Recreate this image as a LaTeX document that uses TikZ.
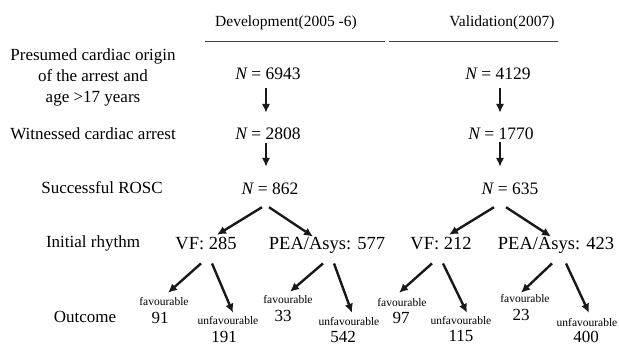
\documentclass[tikz,border=0pt]{standalone}
\usepackage{fontspec}
\setmainfont{Liberation Serif}
\usetikzlibrary{arrows.meta}

\begin{document}
\begin{tikzpicture}[x=1pt,y=-1pt,
	lbl/.style={inner sep=0pt,font=\fontsize{17}{21}\selectfont,align=center},
	hdr/.style={inner sep=0pt,font=\fontsize{15.5}{18}\selectfont},
	cnt/.style={inner sep=0pt,text height=12pt,text depth=0pt,font=\fontsize{17.5}{21}\selectfont},
	rhy/.style={inner sep=0pt,text height=12.5pt,text depth=0pt,font=\fontsize{18.5}{22}\selectfont},
	sml/.style={inner sep=0pt,text height=8pt,text depth=0pt,font=\fontsize{11.5}{13}\selectfont},
	num/.style={inner sep=0pt,text height=12pt,text depth=0pt,font=\fontsize{17}{20}\selectfont},
	arr/.style={line width=2.4pt,draw=black!90,-{Latex[length=9pt,width=8.5pt]}},
	rule/.style={line width=0.8pt,black!75}]
	\useasboundingbox (0,0) rectangle (619,346);
	\node[hdr] (hdev) at (286,23) {Development(2005 -6)};
	\node[hdr] (hval) at (502,23) {Validation(2007)};
	\draw[rule] (205,41) -- (385,41);
	\draw[rule] (389,41) -- (558,41);
	\node[lbl] (pres) at (93,77) {Presumed cardiac origin\\of the arrest and\\age >17 years};
	\node[lbl] (wit) at (93,134) {Witnessed cardiac arrest};
	\node[lbl] (rosc) at (102,188) {Successful ROSC};
	\node[lbl] (init) at (93,243) {Initial rhythm};
	\node[lbl] (outc) at (85,317) {Outcome};
	\node[cnt] (n1) at (268,73) {{\itshape N} = 6943};
	\node[cnt] (n2) at (268,133) {{\itshape N} = 2808};
	\node[cnt] (n3) at (270,188) {{\itshape N} = 862};
	\node[cnt] (m1) at (498,73) {{\itshape N} = 4129};
	\node[cnt] (m2) at (501,133) {{\itshape N} = 1770};
	\node[cnt] (m3) at (510,188) {{\itshape N} = 635};
	\node[rhy] (vf1) at (206,243) {VF: 285};
	\node[rhy] (pea1) at (327,243) {PEA/Asys: 577};
	\node[rhy] (vf2) at (441,243) {VF: 212};
	\node[rhy] (pea2) at (556,243) {PEA/Asys: 423};
	\node[sml] (fav1) at (164,301) {favourable};
	\node[sml] (fav2) at (288,299) {favourable};
	\node[sml] (fav3) at (402,302) {favourable};
	\node[sml] (fav4) at (525,298) {favourable};
	\node[sml] (unf1) at (228,320) {unfavourable};
	\node[sml] (unf2) at (349,321) {unfavourable};
	\node[sml] (unf3) at (461,320) {unfavourable};
	\node[sml] (unf4) at (587,322) {unfavourable};
	\node[num] (nf1) at (160,317) {91};
	\node[num] (nf2) at (283,315) {33};
	\node[num] (nf3) at (401,317) {97};
	\node[num] (nf4) at (521,314) {23};
	\node[num] (nu1) at (224,336) {191};
	\node[num] (nu2) at (343,336) {542};
	\node[num] (nu3) at (461,335) {115};
	\node[num] (nu4) at (586,336) {400};
	\draw[arr] ([xshift=-2pt,yshift=-9pt]n1.south) -- ([xshift=-2pt,yshift=14pt]n2.north);
	\draw[arr] ([xshift=-2pt,yshift=-4pt]n2.south) -- ([xshift=-4pt,yshift=15pt]n3.north);
	\draw[arr] ([xshift=2pt,yshift=-9pt]m1.south) -- ([xshift=-1pt,yshift=14pt]m2.north);
	\draw[arr] ([xshift=-1pt,yshift=-3pt]m2.south) -- ([xshift=-10pt,yshift=15pt]m3.north);
	\draw[arr] ([xshift=-8pt,yshift=-13pt]n3.south) -- ([xshift=11pt,yshift=1.75pt]vf1.north);
	\draw[arr] ([xshift=-1pt,yshift=-13pt]n3.south) -- ([xshift=-14pt]pea1.north);
	\draw[arr] ([xshift=-16pt,yshift=-13pt]m3.south) -- ([xshift=8pt,yshift=1.75pt]vf2.north);
	\draw[arr] ([xshift=-4pt,yshift=-13pt]m3.south) -- ([xshift=-5pt]pea2.north);
	\draw[arr] ([xshift=-5pt,yshift=-14pt]vf1.south) -- ([xshift=4pt,yshift=4pt]fav1.north);
	\draw[arr] ([xshift=6pt,yshift=-14pt]vf1.south) -- ([xshift=5pt,yshift=3pt]unf1.north);
	\draw[arr] ([xshift=-4pt,yshift=-14pt]pea1.south) -- ([xshift=2pt,yshift=3pt]fav2.north);
	\draw[arr] ([xshift=7pt,yshift=-14pt]pea1.south) -- ([xshift=3pt,yshift=4pt]unf2.north);
	\draw[arr] ([xshift=-9pt,yshift=-14pt]vf2.south) -- ([xshift=-3pt,yshift=5pt]fav3.north);
	\draw[arr] ([xshift=2pt,yshift=-14pt]vf2.south) -- ([xshift=6pt,yshift=3pt]unf3.north);
	\draw[arr] ([xshift=-4pt,yshift=-14pt]pea2.south) -- ([xshift=-4pt,yshift=1pt]fav4.north);
	\draw[arr] ([xshift=10pt,yshift=-14pt]pea2.south) -- ([xshift=2pt,yshift=5pt]unf4.north);
\end{tikzpicture}
\end{document}
